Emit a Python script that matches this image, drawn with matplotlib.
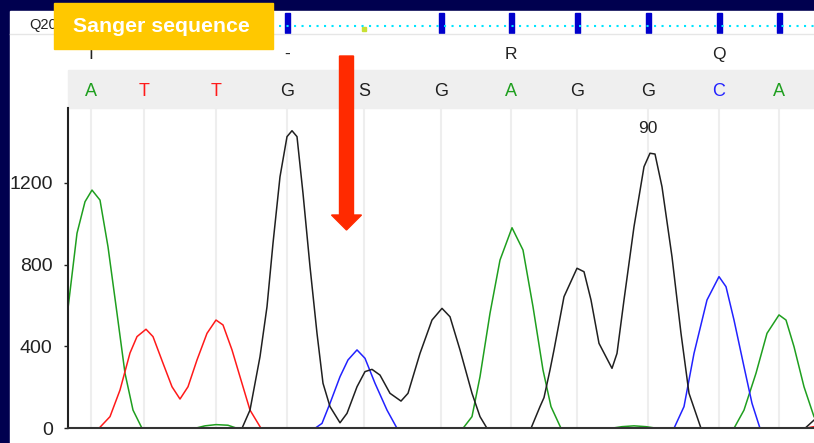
import matplotlib
matplotlib.use('Agg')
from matplotlib import pyplot as plt
from matplotlib.patches import Rectangle, Polygon

# figure is laid out in screen pixels (814 x 443), trace x values use the same scale
W, H = 814, 443

# base calls and where they sit along the trace
bases = ['A', 'T', 'T', 'G', 'S', 'G', 'A', 'G', 'G', 'C', 'A']
base_pos = [91, 144, 216, 287, 364, 441, 511, 577, 648, 719, 779]
quality = [40, 40, 40, 40, 6, 40, 40, 40, 40, 40, 40]
amino = ['I', '-', 'R', 'Q']
peak_label = '90'
peak_label_x = 648

# trace channels (x, signal)
a_x = [68, 77, 85, 92, 100, 108, 117, 125, 133, 142, 195, 205, 216, 228, 237,
       463, 472, 480, 490, 500, 512, 523, 533, 543, 551, 561, 611, 622, 634, 646, 657,
       734, 744, 756, 767, 779, 786, 794, 804, 814]
a_y = [586, 953, 1107, 1164, 1115, 887, 562, 269, 89, 0, 0, 12, 18, 15, 0,
       0, 57, 252, 562, 822, 980, 871, 594, 285, 106, 0, 0, 8, 12, 8, 0,
       0, 89, 269, 464, 554, 529, 399, 203, 57]

t_x = [99, 110, 120, 130, 137, 146, 153, 163, 172, 180, 188, 197, 207, 216, 223,
       232, 240, 250, 261, 805, 814]
t_y = [0, 57, 187, 368, 448, 484, 448, 318, 203, 143, 203, 334, 464, 529, 505,
       383, 252, 89, 0, 0, 8]

g_x = [68, 242, 250, 260, 267, 273, 280, 287, 292, 297, 303, 310, 317, 323, 330,
       340, 347, 357, 365, 372, 380, 390, 401, 408, 420, 432, 442, 450, 460, 472,
       480, 487, 531, 540, 544, 550, 554, 564, 577, 584, 591, 599, 612, 617, 624,
       634, 644, 650, 655, 662, 672, 681, 689, 701, 805, 814]
g_y = [0, 0, 89, 350, 594, 904, 1229, 1425, 1454, 1425, 1148, 790, 464, 220, 106,
       27, 73, 203, 277, 288, 260, 171, 133, 171, 366, 529, 586, 545, 383, 171,
       57, 0, 0, 106, 150, 285, 383, 643, 782, 765, 627, 415, 293, 366, 627,
       985, 1278, 1344, 1340, 1180, 838, 464, 171, 0, 0, 40]

c_x = [315, 322, 330, 340, 348, 357, 365, 375, 387, 397, 674, 684, 694, 707, 719,
       726, 734, 744, 752, 760]
c_y = [0, 24, 122, 252, 334, 383, 342, 220, 89, 0, 0, 106, 366, 627, 741,
       692, 529, 301, 122, 0]

yticks = [0, 400, 800, 1200]

colors = {'A': '#1f9f1f', 'T': '#ff1a1a', 'G': '#202020', 'C': '#2222ff', 'S': '#202020'}
navy = '#00004f'
narrow = ['Liberation Sans Narrow', 'Liberation Sans', 'DejaVu Sans']


def fx(px):
    return px / W


def fy(py):
    return 1 - py / H


fig = plt.figure(figsize=(W / 100, H / 100), dpi=100)
fig.patch.set_facecolor(navy)

# background / header layer in pixel coords
bg = fig.add_axes([0, 0, 1, 1], zorder=0)
bg.set_xlim(0, W)
bg.set_ylim(H, 0)
bg.axis('off')
bg.add_patch(Rectangle((10, 11), W - 10, H - 11, color='white'))
bg.add_patch(Rectangle((68, 70), W - 68, 38, color='#efefef'))
bg.plot([10, W], [33.5, 33.5], color='#e6e6e6', lw=1)
bg.plot([54, W], [26, 26], color='#00e5ff', lw=1.5, linestyle=(0, (1, 2.6)))
bg.text(29, 25, 'Q20', fontsize=10.5, family=narrow, ha='left', va='center', color='#222222')
for x, q in zip(base_pos, quality):
    if q >= 20:
        bg.add_patch(Rectangle((x - 2.5, 12.5), 5, 20, color='#0000cc'))
    else:
        bg.add_patch(Rectangle((x - 2, 27), 4, 4, color='#c8e034'))
for x, aa in zip(base_pos[0::3], amino):
    bg.text(x, 54, aa, fontsize=12.5, family=narrow, ha='center', va='center', color='#222222')
for x, b in zip(base_pos, bases):
    bg.text(x, 91, b, fontsize=13, family=narrow, ha='center', va='center', color=colors[b])

# trace axes
ax = fig.add_axes([fx(68), fy(428.3), fx(814) - fx(68), fy(108) - fy(428.3)], zorder=1)
ax.set_facecolor('none')
ax.set_xlim(68, 814)
ax.set_ylim(0, 1565)
for x in base_pos:
    ax.axvline(x, color='#eeeeee', lw=1.5, zorder=0)
ax.plot(a_x, a_y, color=colors['A'], lw=1.1)
ax.plot(t_x, t_y, color=colors['T'], lw=1.1)
ax.plot(c_x, c_y, color=colors['C'], lw=1.1)
ax.plot(g_x, g_y, color=colors['G'], lw=1.1)
ax.text(peak_label_x, 1465, peak_label, fontsize=12.5, family=narrow, ha='center', va='center', color='#222222')

ax.spines['top'].set_visible(False)
ax.spines['right'].set_visible(False)
ax.spines['left'].set_linewidth(1.5)
ax.spines['bottom'].set_linewidth(1.5)
ax.spines['left'].set_color('#222222')
ax.spines['bottom'].set_color('#333333')
ax.set_xticks([])
ax.set_yticks(yticks)
ax.set_yticklabels([str(v) for v in yticks], family=narrow, fontsize=14, color='#222222')
ax.tick_params(axis='y', length=3, width=1, pad=8, colors='#222222')

# overlay: label box and arrow
top = fig.add_axes([0, 0, 1, 1], zorder=2)
top.set_xlim(0, W)
top.set_ylim(H, 0)
top.axis('off')
top.patch.set_alpha(0)
top.add_patch(Rectangle((54, 3), 219, 46, color='#ffc800'))
top.text(73, 26, 'Sanger sequence', fontsize=15.3, weight='bold', color='white',
         family=['Liberation Sans', 'DejaVu Sans'], ha='left', va='center')
top.add_patch(Polygon([(339.5, 56), (353.5, 56), (353.5, 215), (361.5, 215),
                       (346.5, 230), (331.5, 215), (339.5, 215)],
                      closed=True, color='#ff2a00'))

fig.savefig('out.png', dpi=100, facecolor=navy)
